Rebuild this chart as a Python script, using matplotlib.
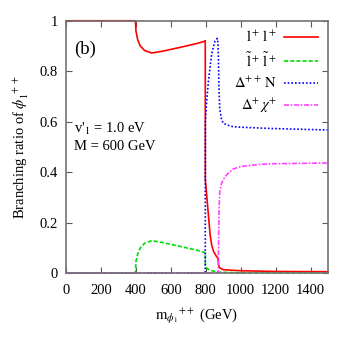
import matplotlib
matplotlib.use("Agg")
import matplotlib.pyplot as plt

plt.rcParams["font.family"] = ["Liberation Serif", "DejaVu Serif"]
plt.rcParams["mathtext.fontset"] = "stix"

# ── Data ──────────────────────────────────────────────────────────────────────
ll_x = [0, 397, 400, 410, 425, 450, 490, 550, 650, 750, 790, 797, 797.5, 805, 815,
        825, 834, 845, 860, 868, 871, 874, 880, 900, 1000, 1200, 1500]
ll_y = [1.0, 1.0, 0.96, 0.925, 0.90, 0.882, 0.872, 0.879, 0.894, 0.910, 0.918, 0.921,
        0.37, 0.31, 0.23, 0.15, 0.11, 0.085, 0.067, 0.060, 0.055, 0.030, 0.020, 0.013,
        0.009, 0.006, 0.005]

sl_x = [0, 397, 400, 410, 425, 450, 490, 550, 650, 750, 790, 797, 797.5, 810, 830,
        860, 880, 1000, 1500]
sl_y = [0.0, 0.0, 0.045, 0.075, 0.100, 0.118, 0.128, 0.121, 0.106, 0.090, 0.082, 0.080,
        0.025, 0.016, 0.010, 0.005, 0.003, 0.001, 0.0]

dn_x = [0, 797, 797.5, 805, 815, 834, 853, 866, 870, 873, 876, 880, 890, 900, 930,
        956, 1000, 1168, 1500]
dn_y = [0.0, 0.0, 0.60, 0.68, 0.76, 0.87, 0.92, 0.93, 0.91, 0.83, 0.72, 0.65, 0.61,
        0.594, 0.585, 0.580, 0.578, 0.573, 0.567]

dc_x = [0, 871, 873, 876, 880, 890, 900, 920, 956, 1000, 1100, 1168, 1500]
dc_y = [0.0, 0.0, 0.10, 0.25, 0.32, 0.355, 0.370, 0.390, 0.412, 0.422, 0.430, 0.433, 0.436]

x_ticks = [0, 200, 400, 600, 800, 1000, 1200, 1400]
y_ticks = [0, 0.2, 0.4, 0.6, 0.8, 1.0]
y_tick_labels = ["0", "0.2", "0.4", "0.6", "0.8", "1"]

# ── Figure ───────────────────────────────────────────────────────────────────
fig = plt.figure(figsize=(3.46, 3.46), dpi=100)
ax = fig.add_axes([0.191, 0.211, 0.757, 0.729])

ax.plot(ll_x, ll_y, color="#ff0000", lw=1.2, clip_on=False,
        label=r"$\mathrm{l}^+\,\mathrm{l}^+$")
ax.plot(sl_x, sl_y, color="#00dd00", lw=1.2, ls=(0, (2.5, 1.2)), clip_on=False,
        label=r"$\tilde{\mathrm{l}}^+\,\tilde{\mathrm{l}}^+$")
ax.plot(dn_x, dn_y, color="#0000ff", lw=1.2, ls=(0, (1, 1.2)), clip_on=False,
        label=r"$\Delta^{++}\,\mathrm{N}$")
ax.plot(dc_x, dc_y, color="#ff44ff", lw=1.2, ls=(0, (3, 1, 1, 1)), clip_on=False,
        label=r"$\Delta^{+}\,\chi^{+}$")

ax.set_xlim(0, 1500)
ax.set_ylim(0, 1)
ax.set_xticks(x_ticks)
ax.set_yticks(y_ticks)
ax.set_yticklabels(y_tick_labels)
ax.tick_params(direction="in", length=4, width=0.8, top=True, right=True,
               labelsize=10.5, color="0.35")
ax.tick_params(axis="x", pad=8)
ax.tick_params(axis="y", pad=6)
for sp in ax.spines.values():
    sp.set_color("0.45")
    sp.set_linewidth(1.2)

ax.set_xlabel(r"$\mathrm{m}_{\phi_1}$$^{++}$ (GeV)", fontsize=10.5, labelpad=7)
ax.set_ylabel(r"Branching ratio of $\phi_1^{\ ++}$", fontsize=10.5, labelpad=6)

ax.text(0.03, 0.885, "(b)", transform=ax.transAxes, fontsize=13.5, va="center")
ax.text(0.03, 0.57, r"v$'_1$ = 1.0 eV", transform=ax.transAxes, fontsize=10.5,
        va="center")
ax.text(0.03, 0.50, "M = 600 GeV", transform=ax.transAxes, fontsize=10.5,
        va="center")

ax.legend(loc="upper right", bbox_to_anchor=(0.995, 1.0), frameon=False,
          markerfirst=False, fontsize=10.5, handlelength=2.3, handletextpad=0.5,
          labelspacing=0.42, borderaxespad=0.2)

fig.savefig("out.png", dpi=100)
